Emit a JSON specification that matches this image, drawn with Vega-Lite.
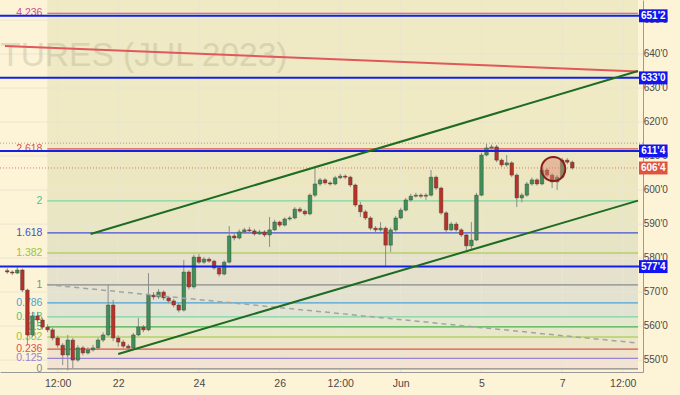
{
"$schema": "https://vega.github.io/schema/vega-lite/v6.json",
"width": 643, "height": 372,
"autosize": {"type": "none"},
"padding": {"left": 0, "top": 0, "right": 37, "bottom": 23},
"background": "#fdf3d6",
"config": {"view": {"stroke": null}, "axis": {"labelOverlap": false, "labelFlush": false}},
"resolve": {"scale": {"color": "independent", "strokeWidth": "independent"}},
"datasets": {
"bands": [
{"z":"b0","lo":612.1,"hi":655.9},{"z":"b1","lo":596.8,"hi":612.1},{"z":"b2","lo":587.4,"hi":596.8},{"z":"b3","lo":581.5,"hi":587.4},
{"z":"b4","lo":572.1,"hi":581.5},{"z":"b5","lo":566.8,"hi":572.1},{"z":"b6","lo":562.7,"hi":566.8},{"z":"b7","lo":559.75,"hi":562.7},
{"z":"b8","lo":556.8,"hi":559.75},{"z":"b9","lo":553.2,"hi":556.8},{"z":"b10","lo":550.5,"hi":553.2},{"z":"b11","lo":547.4,"hi":550.5}],
"vgrid": [{"g":-1.5},{"g":0},{"g":2},{"g":4},{"g":5.5},{"g":7},{"g":9},{"g":11},{"g":12.5}],
"hgrid": [{"g":550,"t":"550'0"},{"g":560,"t":"560'0"},{"g":570,"t":"570'0"},{"g":580,"t":"580'0"},{"g":590,"t":"590'0"},{"g":600,"t":"600'0"},{"g":610,"t":"610'0"},{"g":620,"t":"620'0"},{"g":630,"t":"630'0"},{"g":640,"t":"640'0"},{"g":650,"t":"650'0"}],
"fib": [{"lv":"4.236","v":652.0},{"lv":"2.618","v":612.1},{"lv":"2","v":596.8},{"lv":"1.618","v":587.4},{"lv":"1.382","v":581.5},{"lv":"1","v":572.1},{"lv":"0.786","v":566.8},{"lv":"0.618","v":562.7},{"lv":"0.5","v":559.75},{"lv":"0.382","v":556.8},{"lv":"0.236","v":553.2},{"lv":"0.125","v":550.5},{"lv":"0","v":547.4}],
"segs": [{"s":"red","d1":-2.805,"v1":642.4,"d2":12.878,"v2":634.9},{"s":"g1","d1":-0.683,"v1":587.1,"d2":12.878,"v2":635.0},{"s":"g2","d1":0,"v1":551.8,"d2":12.878,"v2":596.9},{"s":"dash","d1":-1.756,"v1":572.2,"d2":12.878,"v2":555.0}],
"blue": [{"v":651.25},{"v":633},{"v":611.5},{"v":577.5}],
"dots": [{"s":"gray","v":613.8},{"s":"salmon","v":606.5}],
"tags": [{"t":"651'2","v":651.25,"lo":649.35,"hi":653.15,"k":"b"},{"t":"633'0","v":633,"lo":631.1,"hi":634.9,"k":"b"},{"t":"611'4","v":611.5,"lo":609.6,"hi":613.4,"k":"b"},{"t":"606'4","v":606.5,"lo":604.6,"hi":608.4,"k":"r"},{"t":"577'4","v":577.5,"lo":575.6,"hi":579.4,"k":"b"}],
"mark": [{"d":10.78,"v":606.2}],
"wm": [{"t":"FUTURES (JUL 2023)","d":4.195,"v":636.5}],
"candles": [
{"d":-2.75,"o":576.3,"h":577.0,"l":575.4,"c":575.9},
{"d":-2.625,"o":575.9,"h":576.4,"l":575.0,"c":575.6},
{"d":-2.5,"o":575.6,"h":577.4,"l":575.3,"c":576.5},
{"d":-2.375,"o":576.5,"h":576.9,"l":570.0,"c":570.6},
{"d":-2.25,"o":570.6,"h":571.0,"l":554.4,"c":557.4},
{"d":-2.125,"o":557.4,"h":564.2,"l":556.8,"c":563.0},
{"d":-2.0,"o":563.0,"h":564.2,"l":561.0,"c":561.8},
{"d":-1.875,"o":561.8,"h":562.4,"l":559.0,"c":559.7},
{"d":-1.75,"o":559.7,"h":560.5,"l":558.2,"c":558.9},
{"d":-1.625,"o":558.9,"h":559.5,"l":555.8,"c":556.5},
{"d":-1.5,"o":556.5,"h":557.2,"l":553.6,"c":554.4},
{"d":-1.375,"o":554.4,"h":555.0,"l":548.5,"c":551.5},
{"d":-1.25,"o":551.5,"h":557.4,"l":547.0,"c":555.9},
{"d":-1.125,"o":555.9,"h":556.5,"l":547.6,"c":550.0},
{"d":-1.0,"o":550.0,"h":554.4,"l":549.5,"c":553.6},
{"d":-0.875,"o":553.6,"h":554.2,"l":551.4,"c":552.1},
{"d":-0.75,"o":552.1,"h":553.8,"l":551.6,"c":553.0},
{"d":-0.625,"o":553.0,"h":554.5,"l":552.5,"c":553.6},
{"d":-0.5,"o":553.6,"h":556.6,"l":553.0,"c":555.9},
{"d":-0.375,"o":555.9,"h":558.2,"l":555.3,"c":557.4},
{"d":-0.25,"o":557.4,"h":572.1,"l":557.0,"c":566.2},
{"d":-0.125,"o":566.2,"h":567.7,"l":555.6,"c":556.5},
{"d":0.0,"o":556.5,"h":557.3,"l":553.9,"c":555.3},
{"d":0.125,"o":555.3,"h":556.0,"l":553.5,"c":554.1},
{"d":0.25,"o":554.1,"h":554.7,"l":553.0,"c":553.6},
{"d":0.375,"o":553.6,"h":558.0,"l":553.2,"c":557.4},
{"d":0.5,"o":557.4,"h":562.4,"l":557.0,"c":559.7},
{"d":0.625,"o":559.7,"h":560.3,"l":558.2,"c":558.9},
{"d":0.75,"o":558.9,"h":575.6,"l":558.5,"c":569.1},
{"d":0.875,"o":569.1,"h":570.0,"l":567.8,"c":568.6},
{"d":1.0,"o":568.6,"h":570.9,"l":568.0,"c":570.0},
{"d":1.125,"o":570.0,"h":570.5,"l":567.6,"c":568.3},
{"d":1.25,"o":568.3,"h":568.9,"l":566.8,"c":567.4},
{"d":1.375,"o":567.4,"h":568.0,"l":565.5,"c":566.2},
{"d":1.5,"o":566.2,"h":566.8,"l":564.0,"c":564.7},
{"d":1.625,"o":564.7,"h":579.4,"l":564.3,"c":575.9},
{"d":1.75,"o":575.9,"h":576.5,"l":570.8,"c":571.5},
{"d":1.875,"o":571.5,"h":581.0,"l":571.0,"c":580.3},
{"d":2.0,"o":580.3,"h":581.2,"l":578.2,"c":578.8},
{"d":2.125,"o":578.8,"h":580.3,"l":578.3,"c":579.7},
{"d":2.25,"o":579.7,"h":580.2,"l":578.6,"c":579.1},
{"d":2.375,"o":579.1,"h":579.5,"l":576.6,"c":577.1},
{"d":2.5,"o":577.1,"h":577.6,"l":574.6,"c":575.3},
{"d":2.625,"o":575.3,"h":579.3,"l":574.9,"c":578.8},
{"d":2.75,"o":578.8,"h":589.4,"l":578.4,"c":586.5},
{"d":2.875,"o":586.5,"h":587.3,"l":585.2,"c":585.9},
{"d":3.0,"o":585.9,"h":588.4,"l":585.5,"c":587.7},
{"d":3.125,"o":587.7,"h":588.9,"l":587.2,"c":588.3},
{"d":3.25,"o":588.3,"h":589.2,"l":587.5,"c":588.0},
{"d":3.375,"o":588.0,"h":588.6,"l":586.6,"c":587.1},
{"d":3.5,"o":587.1,"h":588.3,"l":586.8,"c":587.7},
{"d":3.625,"o":587.7,"h":588.2,"l":586.2,"c":586.8},
{"d":3.75,"o":586.8,"h":592.1,"l":583.3,"c":588.3},
{"d":3.875,"o":588.3,"h":591.3,"l":588.0,"c":590.6},
{"d":4.0,"o":590.6,"h":591.0,"l":589.1,"c":589.7},
{"d":4.125,"o":589.7,"h":592.0,"l":589.3,"c":591.5},
{"d":4.25,"o":591.5,"h":592.4,"l":591.0,"c":591.8},
{"d":4.375,"o":591.8,"h":595.0,"l":591.4,"c":594.4},
{"d":4.5,"o":594.4,"h":595.0,"l":593.3,"c":593.8},
{"d":4.625,"o":593.8,"h":594.3,"l":592.5,"c":593.0},
{"d":4.75,"o":593.0,"h":599.0,"l":592.6,"c":598.5},
{"d":4.875,"o":598.5,"h":606.5,"l":598.0,"c":601.8},
{"d":5.0,"o":601.8,"h":603.6,"l":601.2,"c":603.0},
{"d":5.125,"o":603.0,"h":603.5,"l":601.6,"c":602.1},
{"d":5.25,"o":602.1,"h":602.6,"l":601.3,"c":601.8},
{"d":5.375,"o":601.8,"h":604.2,"l":601.4,"c":603.6},
{"d":5.5,"o":603.6,"h":604.8,"l":603.2,"c":604.1},
{"d":5.625,"o":604.1,"h":604.6,"l":603.2,"c":603.8},
{"d":5.75,"o":603.8,"h":604.2,"l":600.9,"c":601.5},
{"d":5.875,"o":601.5,"h":601.9,"l":595.0,"c":595.6},
{"d":6.0,"o":595.6,"h":596.5,"l":592.1,"c":593.6},
{"d":6.125,"o":593.6,"h":594.2,"l":591.2,"c":591.8},
{"d":6.25,"o":591.8,"h":592.3,"l":588.2,"c":588.8},
{"d":6.375,"o":588.8,"h":589.4,"l":587.6,"c":588.3},
{"d":6.5,"o":588.3,"h":590.6,"l":587.8,"c":588.8},
{"d":6.625,"o":588.8,"h":589.3,"l":577.4,"c":583.8},
{"d":6.75,"o":583.8,"h":589.0,"l":581.8,"c":588.3},
{"d":6.875,"o":588.3,"h":592.4,"l":587.8,"c":591.8},
{"d":7.0,"o":591.8,"h":594.8,"l":591.4,"c":594.1},
{"d":7.125,"o":594.1,"h":597.7,"l":593.7,"c":597.1},
{"d":7.25,"o":597.1,"h":598.9,"l":596.6,"c":598.2},
{"d":7.375,"o":598.2,"h":599.2,"l":597.8,"c":598.5},
{"d":7.5,"o":598.5,"h":599.0,"l":597.6,"c":598.2},
{"d":7.625,"o":598.2,"h":599.1,"l":597.1,"c":598.5},
{"d":7.75,"o":598.5,"h":605.9,"l":598.1,"c":603.8},
{"d":7.875,"o":603.8,"h":604.3,"l":600.0,"c":600.6},
{"d":8.0,"o":600.6,"h":601.0,"l":592.7,"c":593.3},
{"d":8.125,"o":593.3,"h":593.8,"l":587.7,"c":588.3},
{"d":8.25,"o":588.3,"h":590.6,"l":587.9,"c":590.0},
{"d":8.375,"o":590.0,"h":590.6,"l":587.8,"c":588.3},
{"d":8.5,"o":588.3,"h":588.8,"l":586.2,"c":586.8},
{"d":8.625,"o":586.8,"h":587.2,"l":582.4,"c":583.6},
{"d":8.75,"o":583.6,"h":590.6,"l":582.4,"c":585.3},
{"d":8.875,"o":585.3,"h":599.2,"l":585.0,"c":598.5},
{"d":9.0,"o":598.5,"h":611.0,"l":598.2,"c":610.3},
{"d":9.125,"o":610.3,"h":613.6,"l":609.9,"c":612.4},
{"d":9.25,"o":612.4,"h":613.4,"l":611.9,"c":612.7},
{"d":9.375,"o":612.7,"h":613.3,"l":608.2,"c":608.8},
{"d":9.5,"o":608.8,"h":609.3,"l":606.8,"c":607.4},
{"d":9.625,"o":607.4,"h":610.3,"l":606.9,"c":608.0},
{"d":9.75,"o":608.0,"h":608.5,"l":603.8,"c":604.4},
{"d":9.875,"o":604.4,"h":604.9,"l":595.0,"c":597.7},
{"d":10.0,"o":597.7,"h":599.2,"l":596.4,"c":598.5},
{"d":10.125,"o":598.5,"h":602.4,"l":598.0,"c":601.8},
{"d":10.25,"o":601.8,"h":603.7,"l":601.3,"c":603.0},
{"d":10.375,"o":603.0,"h":603.5,"l":601.3,"c":601.8},
{"d":10.5,"o":601.8,"h":606.6,"l":601.4,"c":605.9},
{"d":10.625,"o":605.9,"h":606.5,"l":603.8,"c":604.4},
{"d":10.75,"o":604.4,"h":605.0,"l":600.6,"c":602.4},
{"d":10.875,"o":602.4,"h":604.4,"l":600.0,"c":603.8},
{"d":11.0,"o":603.8,"h":609.5,"l":603.4,"c":608.8},
{"d":11.125,"o":608.8,"h":609.4,"l":607.6,"c":608.2},
{"d":11.25,"o":608.2,"h":608.7,"l":606.0,"c":606.5}
]
},
"layer": [
{"data": {"name": "bands"}, "mark": {"type": "rect"},
 "encoding": {
  "x": {"datum": -1.756, "type": "quantitative", "scale": {"domain": [-2.805, 12.878], "nice": false, "zero": false},
   "axis": {"title": null, "values": [-1.5,0,2,4,5.5,7,9,11,12.5], "labelExpr": "datum.value == -1.5 || datum.value == 5.5 || datum.value == 12.5 ? '12:00' : datum.value == 0 ? '22' : datum.value == 2 ? '24' : datum.value == 4 ? '26' : datum.value == 7 ? 'Jun' : datum.value == 9 ? '5' : '7'", "grid": false, "ticks": false, "domainColor": "#9a9a9a", "labelColor": "#4a4a4a", "labelFontSize": 10.5, "labelFont": "Liberation Sans", "labelPadding": 6, "labelOverlap": false, "labelFlush": false}},
  "x2": {"datum": 12.878},
  "y": {"field": "lo", "type": "quantitative", "scale": {"domain": [546.5, 655.9], "nice": false, "zero": false},
   "axis": {"title": null, "orient": "right", "labels": false, "grid": false, "ticks": false, "domainColor": "#9a9a9a"}},
  "y2": {"field": "hi"},
  "color": {"field": "z", "type": "nominal", "legend": null, "scale": {"domain": ["b0","b1","b2","b3","b4","b5","b6","b7","b8","b9","b10","b11"], "range": ["#efe9c4","#ece7c1","#e9e6c3","#e7e4c6","#e5e1cc","#e3e1d0","#e1e3d3","#e3e8cf","#e6e8c9","#ebe6c8","#f0e2cb","#f4e3d3"]}}
 }},
{"data": {"name": "vgrid"}, "mark": {"type": "rule", "color": "#e9e6d2", "strokeWidth": 1},
 "encoding": {"x": {"field": "g", "type": "quantitative", "title": null}}},
{"data": {"name": "hgrid"}, "mark": {"type": "rule", "color": "#e9e6d2", "strokeWidth": 1},
 "encoding": {"y": {"field": "g", "type": "quantitative", "title": null}}},
{"data": {"name": "hgrid"}, "mark": {"type": "text", "align": "left", "baseline": "middle", "fontSize": 10, "font": "Liberation Sans", "color": "#4a4a4a"},
 "encoding": {"x": {"datum": 13.02, "type": "quantitative"}, "y": {"field": "g", "type": "quantitative", "title": null}, "text": {"field": "t"}}},
{"data": {"name": "wm"}, "mark": {"type": "text", "align": "right", "baseline": "alphabetic", "fontSize": 33.5, "font": "Liberation Sans", "color": "#a8a488", "opacity": 0.3},
 "encoding": {"x": {"field": "d", "type": "quantitative", "title": null}, "y": {"field": "v", "type": "quantitative", "title": null}, "text": {"field": "t"}}},
{"data": {"name": "fib"}, "mark": {"type": "rule"},
 "encoding": {
  "x": {"datum": -1.756, "type": "quantitative"}, "x2": {"datum": 12.878},
  "y": {"field": "v", "type": "quantitative", "title": null},
  "color": {"field": "lv", "type": "nominal", "legend": null, "scale": {"domain": ["4.236","2.618","2","1.618","1.382","1","0.786","0.618","0.5","0.382","0.236","0.125","0"], "range": ["#c94f93","#d9534f","#7dd6a4","#4350d4","#9cc43c","#8a8a8a","#4aa3d8","#7dd6a4","#48b54c","#9cc43c","#d9534f","#9b82d3","#8a8a8a"]}},
  "strokeWidth": {"field": "lv", "type": "ordinal", "legend": null, "scale": {"domain": ["4.236","2.618","2","1.618","1.382","1","0.786","0.618","0.5","0.382","0.236","0.125","0"], "range": [1.2,1.2,2.5,1.2,1.2,1.2,1.2,2.5,1.5,1.2,1.5,1.2,1.2]}}
 }},
{"data": {"name": "fib"}, "mark": {"type": "text", "align": "right", "baseline": "middle", "fontSize": 10.5, "font": "Liberation Sans"},
 "encoding": {
  "x": {"datum": -1.878, "type": "quantitative"},
  "y": {"field": "v", "type": "quantitative", "title": null},
  "text": {"field": "lv"},
  "color": {"field": "lv", "type": "nominal", "legend": null, "scale": {"domain": ["4.236","2.618","2","1.618","1.382","1","0.786","0.618","0.5","0.382","0.236","0.125","0"], "range": ["#c94f93","#d9534f","#4cc38a","#4350d4","#9cc43c","#8a8a8a","#4aa3d8","#4cc38a","#48b54c","#9cc43c","#d9534f","#9b82d3","#8a8a8a"]}}
 }},
{"data": {"name": "dots"}, "transform": [{"filter": "datum.s == 'gray'"}], "mark": {"type": "rule", "color": "#a0a0a0", "strokeDash": [1, 2], "strokeWidth": 1},
 "encoding": {"y": {"field": "v", "type": "quantitative", "title": null}}},
{"data": {"name": "dots"}, "transform": [{"filter": "datum.s == 'salmon'"}], "mark": {"type": "rule", "color": "#e07a5f", "strokeDash": [1, 2], "strokeWidth": 1},
 "encoding": {"y": {"field": "v", "type": "quantitative", "title": null}}},
{"data": {"name": "candles"}, "mark": {"type": "rule", "color": "#8c8c8c", "strokeWidth": 1},
 "encoding": {"x": {"field": "d", "type": "quantitative", "title": null}, "y": {"field": "l", "type": "quantitative", "title": null}, "y2": {"field": "h"}}},
{"data": {"name": "candles"}, "mark": {"type": "bar", "width": 3.6, "stroke": "#3a3a3a", "strokeWidth": 0.4},
 "encoding": {"x": {"field": "d", "type": "quantitative", "title": null}, "y": {"field": "o", "type": "quantitative", "title": null}, "y2": {"field": "c"},
  "color": {"condition": {"test": "datum.c >= datum.o", "value": "#3f8f57"}, "value": "#b83227"}}},
{"data": {"name": "blue"}, "mark": {"type": "rule", "color": "#1320e6", "strokeWidth": 2},
 "encoding": {"y": {"field": "v", "type": "quantitative", "title": null}}},
{"data": {"name": "segs"}, "transform": [{"filter": "datum.s == 'red'"}], "mark": {"type": "rule", "color": "#e0585a", "strokeWidth": 2},
 "encoding": {"x": {"field": "d1", "type": "quantitative", "title": null}, "y": {"field": "v1", "type": "quantitative", "title": null}, "x2": {"field": "d2"}, "y2": {"field": "v2"}}},
{"data": {"name": "segs"}, "transform": [{"filter": "datum.s == 'dash'"}], "mark": {"type": "rule", "color": "#a3a3a3", "strokeWidth": 1.5, "strokeDash": [5, 4]},
 "encoding": {"x": {"field": "d1", "type": "quantitative", "title": null}, "y": {"field": "v1", "type": "quantitative", "title": null}, "x2": {"field": "d2"}, "y2": {"field": "v2"}}},
{"data": {"name": "segs"}, "transform": [{"filter": "datum.s == 'g1' || datum.s == 'g2'"}], "mark": {"type": "rule", "color": "#1e6b22", "strokeWidth": 2},
 "encoding": {"x": {"field": "d1", "type": "quantitative", "title": null}, "y": {"field": "v1", "type": "quantitative", "title": null}, "x2": {"field": "d2"}, "y2": {"field": "v2"}}},
{"data": {"name": "mark"}, "mark": {"type": "point", "shape": "circle", "size": 570, "filled": true, "fill": "#d9856c", "fillOpacity": 0.45, "stroke": "#8c1c1c", "strokeWidth": 2, "strokeOpacity": 1},
 "encoding": {"x": {"field": "d", "type": "quantitative", "title": null}, "y": {"field": "v", "type": "quantitative", "title": null}}},
{"data": {"name": "tags"}, "mark": {"type": "rect"},
 "encoding": {"x": {"datum": 12.902, "type": "quantitative"}, "x2": {"datum": 13.61}, "y": {"field": "lo", "type": "quantitative", "title": null}, "y2": {"field": "hi"},
  "color": {"field": "k", "type": "nominal", "legend": null, "scale": {"domain": ["b", "r"], "range": ["#1414f0", "#e0533f"]}}}},
{"data": {"name": "tags"}, "mark": {"type": "text", "align": "center", "baseline": "middle", "fontSize": 10, "font": "Liberation Sans", "fontWeight": "bold", "color": "#ffffff"},
 "encoding": {"x": {"datum": 13.256, "type": "quantitative"}, "y": {"field": "v", "type": "quantitative", "title": null}, "text": {"field": "t"}}}
]
}
